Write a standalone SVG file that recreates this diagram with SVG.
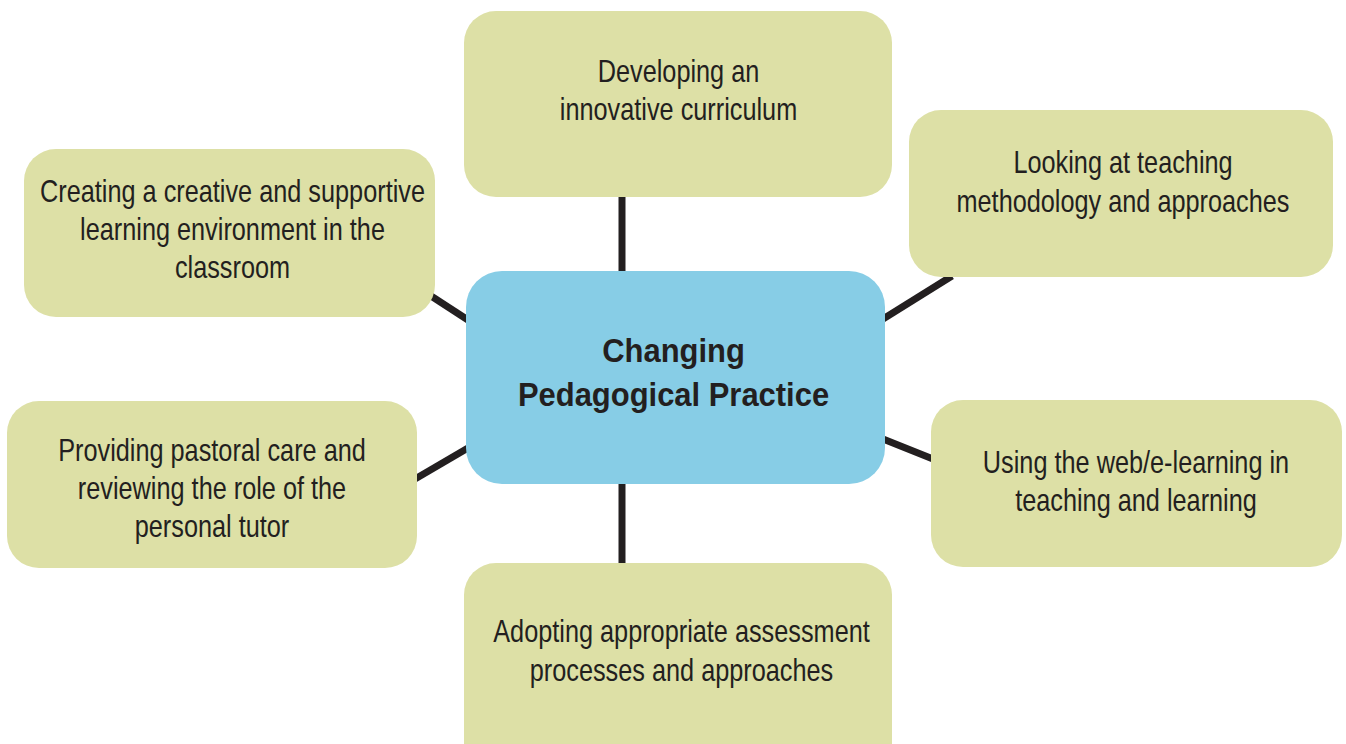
<svg xmlns="http://www.w3.org/2000/svg" width="1346" height="744" viewBox="0 0 1346 744">
  <style>
    .leaf { fill: #dde0a6; }
    .hub { fill: #87cde6; }
    .lbl { font-family: "Liberation Sans", Arial, sans-serif; font-size: 32px; fill: #231f20; text-anchor: middle; }
    .hub-lbl { font-family: "Liberation Sans", Arial, sans-serif; font-size: 34px; font-weight: bold; fill: #231f20; text-anchor: middle; }
    .link { stroke: #231f20; stroke-width: 7; fill: none; }
  </style>
  <rect width="1346" height="744" fill="#ffffff"/>

  <!-- spokes from the hub to each topic -->
  <g id="connectors">
    <line class="link" x1="622" y1="195" x2="622" y2="273"/>
    <line class="link" x1="622" y1="482" x2="622" y2="565"/>
    <line class="link" x1="428" y1="294" x2="468" y2="320"/>
    <line class="link" x1="415" y1="479" x2="468" y2="448"/>
    <line class="link" x1="883" y1="319" x2="952" y2="276"/>
    <line class="link" x1="883" y1="439" x2="933" y2="459"/>
  </g>

  <g id="node-curriculum">
    <rect class="leaf" x="464" y="11" width="428" height="186" rx="32"/>
    <g transform="translate(678.5,0) scale(0.79,1)">
      <text class="lbl" x="0" y="82">Developing an</text>
      <text class="lbl" x="0" y="120">innovative curriculum</text>
    </g>
  </g>

  <g id="node-environment">
    <rect class="leaf" x="24" y="149" width="411" height="168" rx="32"/>
    <g transform="translate(232.5,0) scale(0.79,1)">
      <text class="lbl" x="0" y="202">Creating a creative and supportive</text>
      <text class="lbl" x="0" y="240">learning environment in the</text>
      <text class="lbl" x="0" y="278">classroom</text>
    </g>
  </g>

  <g id="node-methodology">
    <rect class="leaf" x="909" y="110" width="424" height="167" rx="32"/>
    <g transform="translate(1123,0) scale(0.79,1)">
      <text class="lbl" x="0" y="173">Looking at teaching</text>
      <text class="lbl" x="0" y="212">methodology and approaches</text>
    </g>
  </g>

  <g id="node-pastoral">
    <rect class="leaf" x="7" y="401" width="410" height="167" rx="32"/>
    <g transform="translate(212,0) scale(0.79,1)">
      <text class="lbl" x="0" y="461">Providing pastoral care and</text>
      <text class="lbl" x="0" y="499">reviewing the role of the</text>
      <text class="lbl" x="0" y="537">personal tutor</text>
    </g>
  </g>

  <g id="node-elearning">
    <rect class="leaf" x="931" y="400" width="411" height="167" rx="32"/>
    <g transform="translate(1136,0) scale(0.79,1)">
      <text class="lbl" x="0" y="473">Using the web/e-learning in</text>
      <text class="lbl" x="0" y="511">teaching and learning</text>
    </g>
  </g>

  <g id="node-assessment">
    <rect class="leaf" x="464" y="563" width="428" height="220" rx="32"/>
    <g transform="translate(681.5,0) scale(0.79,1)">
      <text class="lbl" x="0" y="642">Adopting appropriate assessment</text>
      <text class="lbl" x="0" y="681">processes and approaches</text>
    </g>
  </g>

  <g id="node-hub">
    <rect class="hub" x="466" y="271" width="419" height="213" rx="36"/>
    <g transform="translate(673.5,0) scale(0.91,1)">
      <text class="hub-lbl" x="0" y="362">Changing</text>
      <text class="hub-lbl" x="0" y="406">Pedagogical Practice</text>
    </g>
  </g>
</svg>
